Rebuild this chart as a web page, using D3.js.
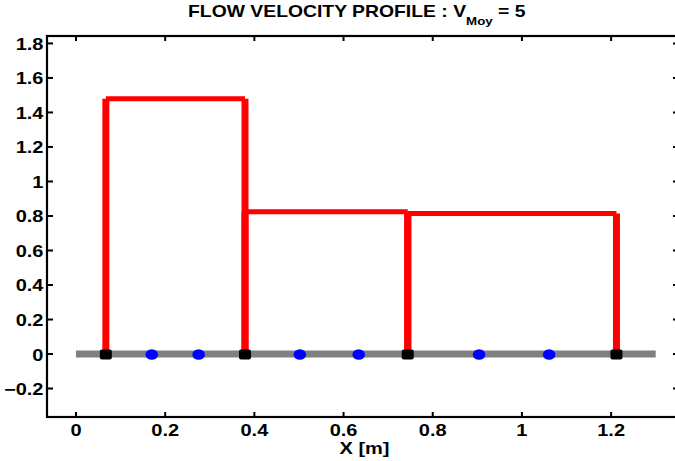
<!DOCTYPE html>
<html>
<head>
<meta charset="utf-8">
<script src="https://cdn.jsdelivr.net/npm/d3@7"></script>
<style>
  html, body { margin: 0; padding: 0; background: #fff; }
  svg { display: block; }
  text { font-family: "Liberation Sans", Arial, sans-serif; font-weight: bold; fill: #000; }
</style>
</head>
<body>
<svg id="chart" width="675" height="461"></svg>
<script>
// Section boundaries along the pipe [m] and mean velocity in each section
const sectionEdges = [0.067, 0.379, 0.744, 1.212];
const sectionVelocity = [1.48, 0.825, 0.815];
// Measurement points between the boundaries [m]
const probePoints = [0.17, 0.275, 0.502, 0.634, 0.904, 1.061];
// Extent of the pipe baseline [m]
const pipeExtent = [0, 1.3];
// Tick values
const xTicks = [0, 0.2, 0.4, 0.6, 0.8, 1, 1.2];
const yTicks = [-0.2, 0, 0.2, 0.4, 0.6, 0.8, 1, 1.2, 1.4, 1.6, 1.8];
const titleMain = "FLOW VELOCITY PROFILE : V";
const titleSub = "Moy";
const titleTail = " = 5";
const xLabel = "X [m]";

(function draw() {
  const svg = d3.select("#chart");
  const plotL = 47, plotR = 678, plotT = 36, plotB = 417;
  const stretch = 1.25; // horizontal stretch applied to all text

  const x = d3.scaleLinear().domain([-0.065, 1.35]).range([plotL, plotR]);
  const y = d3.scaleLinear().domain([-0.365, 1.843]).range([plotB, plotT]);

  const fmt = d => d3.format("")(d);

  // Pipe baseline
  svg.append("line")
    .attr("x1", x(pipeExtent[0])).attr("x2", x(pipeExtent[1]))
    .attr("y1", y(0)).attr("y2", y(0))
    .attr("stroke", "#808080").attr("stroke-width", 7);

  // Velocity profile: one box outline per section
  const sections = sectionVelocity.map((v, i) => ({ x0: sectionEdges[i], x1: sectionEdges[i + 1], v }));
  const prof = svg.append("g").attr("stroke", "#ff0000").attr("fill", "none");
  sections.forEach(s => {
    prof.append("line").attr("x1", x(s.x0)).attr("x2", x(s.x0)).attr("y1", y(0)).attr("y2", y(s.v)).attr("stroke-width", 7);
    prof.append("line").attr("x1", x(s.x0)).attr("x2", x(s.x1)).attr("y1", y(s.v)).attr("y2", y(s.v)).attr("stroke-width", 5);
    prof.append("line").attr("x1", x(s.x1)).attr("x2", x(s.x1)).attr("y1", y(s.v)).attr("y2", y(0)).attr("stroke-width", 7);
  });

  // Section boundary markers
  svg.append("g").selectAll("rect").data(sectionEdges).join("rect")
    .attr("x", d => x(d) - 6).attr("y", y(0) - 4.5)
    .attr("width", 12).attr("height", 10)
    .attr("rx", 2)
    .attr("fill", "#000");

  // Probe points
  svg.append("g").selectAll("ellipse").data(probePoints).join("ellipse")
    .attr("cx", d => x(d)).attr("cy", y(0) + 0.5)
    .attr("rx", 6.3).attr("ry", 5.3)
    .attr("fill", "#0000ff");

  // Axes box with inward ticks
  const axes = svg.append("g");
  const tickLen = 5;
  axes.append("rect")
    .attr("x", plotL).attr("y", plotT)
    .attr("width", plotR - plotL).attr("height", plotB - plotT)
    .attr("fill", "none").attr("stroke", "#000").attr("stroke-width", 2.2);

  xTicks.forEach(t => {
    axes.append("line").attr("x1", x(t)).attr("x2", x(t)).attr("y1", plotB).attr("y2", plotB - tickLen).attr("stroke", "#000").attr("stroke-width", 2);
    axes.append("line").attr("x1", x(t)).attr("x2", x(t)).attr("y1", plotT).attr("y2", plotT + tickLen).attr("stroke", "#000").attr("stroke-width", 2);
    axes.append("text")
      .attr("transform", `translate(${x(t)},${plotB + 18.5}) scale(${stretch},1)`)
      .attr("text-anchor", "middle").attr("font-size", 16)
      .text(fmt(t));
  });
  yTicks.forEach(t => {
    axes.append("line").attr("x1", plotL).attr("x2", plotL + tickLen + 1).attr("y1", y(t)).attr("y2", y(t)).attr("stroke", "#000").attr("stroke-width", 2);
    axes.append("line").attr("x1", plotR).attr("x2", plotR - tickLen).attr("y1", y(t)).attr("y2", y(t)).attr("stroke", "#000").attr("stroke-width", 2);
    axes.append("text")
      .attr("transform", `translate(${plotL - 3.5},${y(t) + 6.5}) scale(${stretch},1)`)
      .attr("text-anchor", "end").attr("font-size", 16)
      .text(fmt(t));
  });

  // Axis label
  svg.append("text")
    .attr("transform", `translate(${(plotL + plotR) / 2 + 2},453.5) scale(${stretch},1)`)
    .attr("text-anchor", "middle").attr("font-size", 16)
    .text(xLabel);

  // Title with subscript
  const title = svg.append("text")
    .attr("transform", `translate(188,17) scale(1.21,1)`)
    .attr("font-size", 16);
  title.append("tspan").text(titleMain);
  title.append("tspan").attr("font-size", 11).attr("dy", 8).text(titleSub);
  title.append("tspan").attr("font-size", 16).attr("dy", -8).attr("xml:space", "preserve").text(titleTail);
})();
</script>
</body>
</html>
